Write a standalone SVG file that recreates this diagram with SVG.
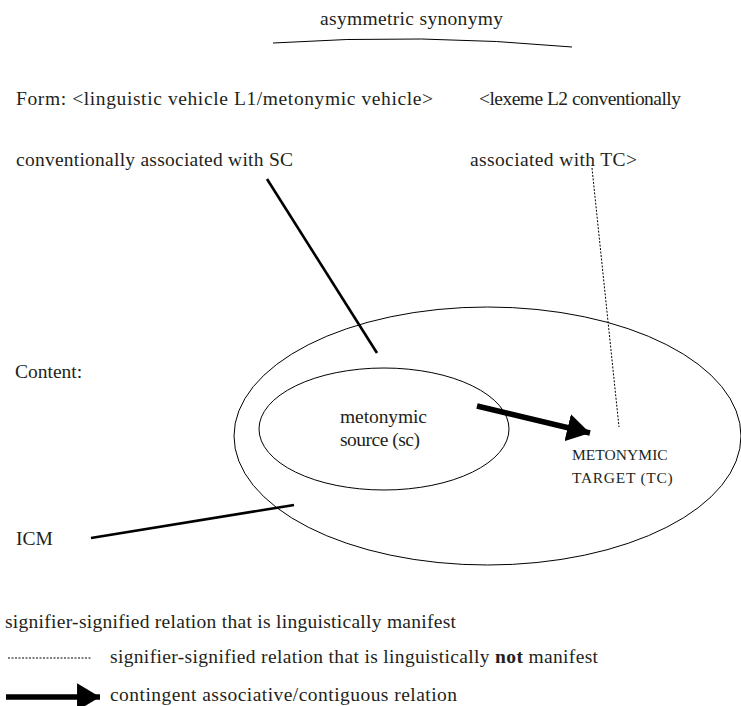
<svg xmlns="http://www.w3.org/2000/svg" width="741" height="706" viewBox="0 0 741 706">
  <style>
    text { font-family: "Liberation Serif", "DejaVu Serif", "Times New Roman", serif; fill: #231f20; font-size: 19.5px; }
    .sc { font-size: 15.5px; letter-spacing: 0.3px; }
    .thin { fill: none; stroke: #000; stroke-width: 1; }
    .thick { fill: none; stroke: #000; stroke-width: 2.6; }
    .dot { fill: none; stroke: #000; stroke-width: 1; stroke-dasharray: 2 1.5; }
    .heavy { fill: none; stroke: #000; stroke-width: 5.5; }
  </style>
  <defs>
    <marker id="head" viewBox="0 0 10 12" refX="10" refY="6" markerWidth="4.2" markerHeight="5" markerUnits="strokeWidth" orient="auto">
      <path d="M0,0 L10,6 L0,12 z" fill="#000"/>
    </marker>
  </defs>

  <!-- heading with its arc -->
  <g id="synonymy">
    <text x="320" y="25" textLength="183" lengthAdjust="spacing">asymmetric synonymy</text>
    <path class="thin" d="M273,43 Q420,33 572,47"/>
  </g>

  <!-- form level -->
  <g id="form-l1">
    <text x="16" y="105" textLength="417" lengthAdjust="spacing">Form: &lt;linguistic vehicle L1/metonymic vehicle&gt;</text>
    <text x="16" y="166" textLength="277" lengthAdjust="spacing">conventionally associated with SC</text>
  </g>
  <g id="form-l2">
    <text x="479" y="105" textLength="202" lengthAdjust="spacing">&lt;lexeme L2 conventionally</text>
    <text x="470" y="166" textLength="167" lengthAdjust="spacing">associated with TC&gt;</text>
  </g>

  <!-- content level -->
  <g id="content-label">
    <text x="15" y="378">Content:</text>
  </g>
  <g id="icm">
    <ellipse class="thin" cx="487.5" cy="436" rx="253.5" ry="129"/>
    <text x="16" y="545">ICM</text>
  </g>
  <g id="source">
    <ellipse class="thin" cx="384" cy="429" rx="125" ry="61"/>
    <text x="340" y="423" font-size="19" textLength="87" lengthAdjust="spacing">metonymic</text>
    <text x="340" y="446" font-size="19" textLength="80" lengthAdjust="spacing">source (sc)</text>
  </g>
  <g id="target">
    <text class="sc" x="572" y="460" textLength="96" lengthAdjust="spacing">METONYMIC</text>
    <text class="sc" x="572" y="483" textLength="101" lengthAdjust="spacing">TARGET (TC)</text>
  </g>

  <!-- connectors -->
  <g id="connectors">
    <line class="thick" x1="267" y1="179" x2="377" y2="353"/>
    <line class="dot" x1="592" y1="168" x2="619" y2="427"/>
    <line class="thick" x1="91" y1="538" x2="294" y2="505"/>
    <line class="heavy" x1="477" y1="406" x2="590" y2="433" marker-end="url(#head)"/>
  </g>

  <!-- legend -->
  <g id="legend">
    <text x="5" y="628" textLength="451" lengthAdjust="spacing">signifier-signified relation that is linguistically manifest</text>
    <line class="dot" x1="8" y1="658" x2="92" y2="658"/>
    <text x="110" y="663" textLength="488" lengthAdjust="spacing">signifier-signified relation that is linguistically <tspan font-weight="bold">not</tspan> manifest</text>
    <line class="heavy" x1="6" y1="697" x2="100" y2="697" marker-end="url(#head)"/>
    <text x="110" y="701" textLength="347" lengthAdjust="spacing">contingent associative/contiguous relation</text>
  </g>
</svg>
